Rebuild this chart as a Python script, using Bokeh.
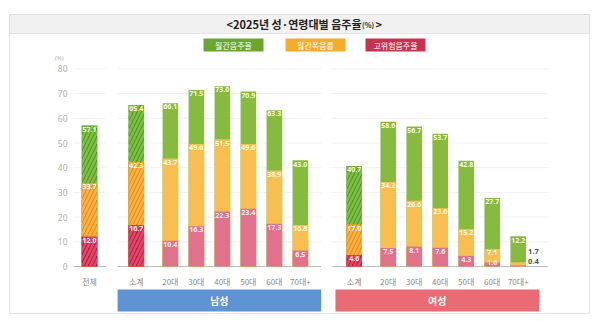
from bokeh.plotting import figure
from bokeh.models import ColumnDataSource, Range1d
from bokeh.core.properties import value
from bokeh.embed import file_html
from bokeh.resources import INLINE

# ---------------- data ----------------
categories = ["전체", "소계", "20대", "30대", "40대", "50대", "60대", "70대+",
              "소계", "20대", "30대", "40대", "50대", "60대", "70대+"]
groups = ["전체"] + ["남성"] * 7 + ["여성"] * 7
monthly = [57.1, 65.4, 66.1, 71.5, 73.0, 70.9, 63.3, 43.0,
           40.7, 58.6, 56.7, 53.7, 42.8, 27.7, 12.2]
binge = [33.7, 42.3, 43.7, 49.6, 51.5, 49.6, 38.9, 16.8,
         17.0, 34.2, 26.6, 23.6, 15.2, 7.1, 1.7]
highrisk = [12.0, 16.7, 10.4, 16.3, 22.3, 23.4, 17.3, 6.5,
            4.6, 7.5, 8.1, 7.6, 4.3, 1.6, 0.4]
series_names = ["월간음주율", "월간폭음률", "고위험음주율"]
y_ticks = [0, 10, 20, 30, 40, 50, 60, 70, 80]
group_labels = ["남성", "여성"]
title_text = "<2025년 성·연령대별 음주율"

KFONT = value("Noto Sans CJK KR")

# ---------------- layout helpers ----------------
STEP = 26.0
X0 = 89.0
PXU = 2.47
BASE = 266.0


def X(px):
    return (px - X0) / STEP


def Y(py):
    return (BASE - py) / PXU


slots = []
s = 0.0
for i, (g, c) in enumerate(zip(groups, categories)):
    if i > 0:
        s += 1.0
        if g != groups[i - 1]:
            s += 0.8 if groups[i - 1] == "전체" else 1.07
        elif categories[i - 1] == "소계":
            s += 0.31
    slots.append(s)

hatched = [c in ("전체", "소계") for c in categories]

p = figure(width=600, height=321, output_backend="svg", toolbar_location=None,
           x_range=Range1d(X(0), X(600)), y_range=Range1d(Y(321), Y(0)),
           min_border=0, min_border_left=0, min_border_right=0,
           min_border_top=0, min_border_bottom=0)
p.xaxis.visible = False
p.yaxis.visible = False
p.grid.visible = False
p.outline_line_color = None
p.background_fill_color = "white"
p.border_fill_color = "white"

# outer frame + title band
p.quad(left=X(9), right=X(589), top=Y(14), bottom=Y(313), fill_color=None,
       line_color="#cfcfcf", line_dash="1 1", line_width=1)
p.quad(left=X(9), right=X(589), top=Y(14), bottom=Y(33), fill_color="#f1f1f1",
       line_color="#cfcfcf", line_dash="1 1", line_width=1)
p.text(x=[X(361)], y=[Y(23.5)], text=[title_text], text_font=KFONT,
       text_font_size="11px", text_font_style="bold", text_color="#222222",
       text_align="right", text_baseline="middle")
p.text(x=[X(361.5)], y=[Y(24.5)], text=["(%)"], text_font=KFONT,
       text_font_size="7px", text_font_style="bold", text_color="#222222",
       text_align="left", text_baseline="middle")
p.text(x=[X(375)], y=[Y(23.5)], text=[">"], text_font=KFONT,
       text_font_size="11px", text_font_style="bold", text_color="#222222",
       text_align="left", text_baseline="middle")

# legend
leg_colors = ["#6aa631", "#f6ab2a", "#c8324f"]
leg_left = [203, 285, 365]
for name, col, lx in zip(series_names, leg_colors, leg_left):
    p.quad(left=X(lx), right=X(lx + 60), top=Y(38), bottom=Y(51),
           fill_color=col, line_color=None)
    p.text(x=[X(lx + 30)], y=[Y(44.5)], text=[name], text_font=KFONT,
           text_font_size="8px", text_color="white", text_align="center",
           text_baseline="middle")

# group extents
ext = {}
for g in ["전체", "남성", "여성"]:
    xs = [sl for sl, gg in zip(slots, groups) if gg == g]
    if g == "전체":
        ext[g] = (min(xs) - 0.62, max(xs) + 0.62)
    else:
        ext[g] = (min(xs) - 0.72, max(xs) + 0.8)

# gridlines and baselines
for g, (a, b) in ext.items():
    gl = b + (0.35 if g == "여성" else 0.0)
    ga = a - (0.15 if g == "여성" else 0.0)
    p.multi_line(xs=[[ga, gl] for t in y_ticks if t > 0],
                 ys=[[t, t] for t in y_ticks if t > 0],
                 line_color="#f0f0f0", line_width=1)
    p.line(x=[ga, gl], y=[0, 0], line_color="#bdbdbd", line_width=1)

# y tick labels
p.text(x=[X(67)] * len(y_ticks), y=y_ticks, text=[str(t) for t in y_ticks],
       text_font=value("Noto Sans"), text_font_size="8.5px", text_color="#b0b0b0",
       text_align="right", text_baseline="middle")
p.text(x=[X(63)], y=[Y(57)], text=["(%)"], text_font=value("Noto Sans"),
       text_font_size="6px", text_color="#b0b0b0", text_align="right",
       text_baseline="middle")

# bars
W = 0.6
solid_idx = [i for i, h in enumerate(hatched) if not h]
hatch_idx = [i for i, h in enumerate(hatched) if h]
series = [monthly, binge, highrisk]
solid_cols = ["#86bb40", "#f8bf50", "#e2718d"]
hatch_fill = ["#549a28", "#f08d0c", "#c4183f"]
hatch_line = ["#7cbf43", "#f6b14a", "#dc4a6c"]

for k, vals in enumerate(series):
    src_s = ColumnDataSource(dict(x=[slots[i] for i in solid_idx],
                                  top=[vals[i] for i in solid_idx]))
    p.vbar(x="x", top="top", bottom=0, width=W, source=src_s,
           fill_color=solid_cols[k], line_color=None)
    src_h = ColumnDataSource(dict(x=[slots[i] for i in hatch_idx],
                                  top=[vals[i] for i in hatch_idx]))
    p.vbar(x="x", top="top", bottom=0, width=W, source=src_h,
           fill_color=hatch_fill[k], line_color=None,
           hatch_pattern="right_diagonal_line", hatch_color=hatch_line[k],
           hatch_scale=8, hatch_weight=2.5)

# value labels
last = len(categories) - 1
for k, vals in enumerate(series):
    xs, ys, ts = [], [], []
    for i, v in enumerate(vals):
        if i == last and k > 0:
            continue
        xs.append(slots[i])
        ys.append(max(v, 3.0) - 0.5)
        ts.append(f"{v:.1f}")
    p.text(x=xs, y=ys, text=ts, text_font=value("Noto Sans"), text_font_size="7px",
           text_font_style="bold", text_color="white", text_align="center",
           text_baseline="top", text_alpha=0.95)

# outside labels for the smallest bar
out_offsets = [None, 4.2, 1.5]
for k in (1, 2):
    p.text(x=[slots[last] + W / 2 + 0.08], y=[series[k][last] + out_offsets[k]],
           text=[f"{series[k][last]:.1f}"], text_font=value("Noto Sans"),
           text_font_size="7.5px", text_font_style="bold", text_color="#555555",
           text_align="left", text_baseline="middle")

# x labels
p.text(x=slots, y=[Y(280.5)] * len(slots), text=categories, text_font=KFONT,
       text_font_size="8px", text_color="#8a8a8a", text_align="center",
       text_baseline="middle")

# group boxes
box_cols = {"남성": "#5e93d4", "여성": "#ea6b73"}
for g in group_labels:
    a, b = ext[g]
    p.quad(left=a, right=b, top=Y(289), bottom=Y(311), fill_color=box_cols[g],
           line_color=None)
    p.text(x=[(a + b) / 2], y=[Y(300)], text=[g], text_font=KFONT,
           text_font_size="10px", text_font_style="bold", text_color="white",
           text_align="center", text_baseline="middle")

open("out.html", "w").write(file_html(p, INLINE))
